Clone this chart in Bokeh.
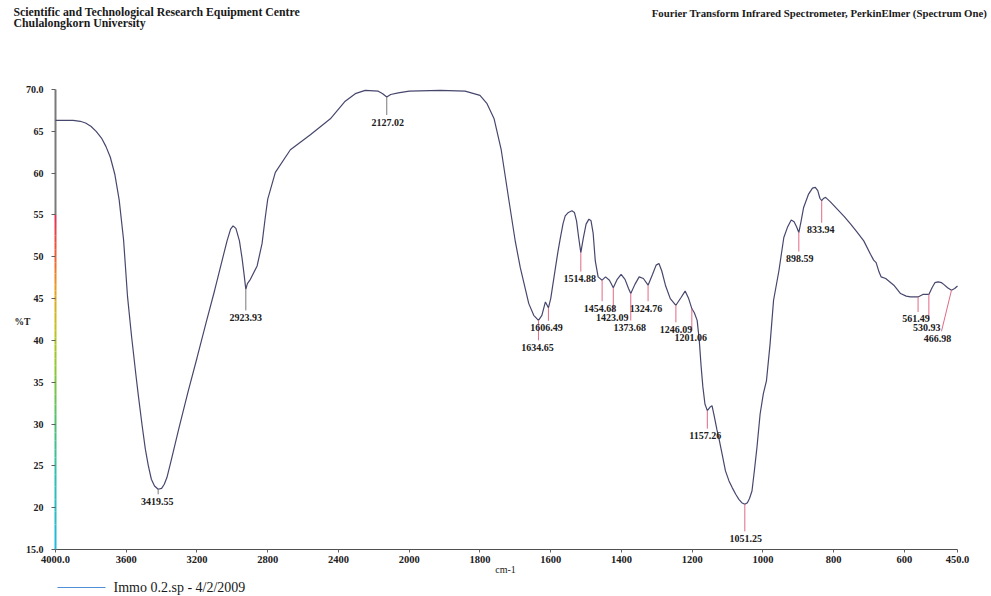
import numpy as np
from bokeh.plotting import figure
from bokeh.models import Range1d, FixedTicker, Label
from bokeh.core.properties import value
from bokeh.embed import file_html
from bokeh.resources import INLINE

# ---------------- data ----------------
wavenumber = [
    4000, 3950, 3900, 3860, 3830, 3800, 3770, 3740, 3715, 3690,
    3665, 3640, 3615, 3593, 3570, 3545, 3531, 3510, 3492, 3475,
    3458, 3440, 3419.55, 3400, 3385, 3370, 3350, 3300, 3250, 3200,
    3150, 3100, 3060, 3030, 3010, 2996, 2980, 2960, 2945, 2935,
    2923.93, 2915, 2898, 2860, 2832, 2814, 2800, 2757, 2672, 2559,
    2446, 2362, 2305, 2249, 2175, 2150, 2127.02, 2105, 2062, 2000,
    1912, 1842, 1800, 1780, 1760, 1740, 1718, 1700, 1686, 1662,
    1648, 1634.65, 1625, 1615, 1606.49, 1600, 1592, 1580, 1573, 1565,
    1559, 1550, 1540, 1533, 1527, 1521, 1514.88, 1508, 1500, 1492,
    1486, 1480, 1474, 1466, 1454.68, 1445, 1434, 1423.09, 1412, 1401,
    1390, 1380, 1373.68, 1362, 1350, 1338, 1324.76, 1312, 1302, 1294,
    1286, 1275, 1262, 1246.09, 1232, 1220, 1210, 1201.06, 1194, 1186,
    1180, 1175, 1170, 1164, 1157.26, 1150, 1144, 1138, 1130, 1125,
    1115, 1106, 1096, 1087, 1077, 1068, 1060, 1051.25, 1044, 1038,
    1031, 1024, 1017, 1008, 999, 990, 980, 970, 955, 941,
    930, 920, 912, 905, 898.59, 892, 885, 871, 860, 852,
    845, 839, 833.94, 828, 823, 810, 790, 770, 752, 735,
    715, 696, 687, 680, 672, 666, 653, 630, 611, 595,
    583, 561.49, 548, 530.93, 522, 514, 505, 495, 489, 478,
    466.98, 458, 450]
transmittance = [
    66.3, 66.3, 66.3, 66.2, 66.0, 65.6, 65.0, 64.2, 63.2, 61.9,
    59.9, 56.8, 52.0, 45.3, 40.5, 35.8, 33.3, 29.8, 27.0, 25.0,
    23.4, 22.6, 22.2, 22.3, 22.8, 23.6, 25.3, 29.7, 33.9, 37.9,
    42.0, 46.0, 49.4, 51.9, 53.3, 53.7, 53.4, 51.9, 49.8, 48.1,
    46.1, 46.8, 47.3, 48.9, 51.6, 54.7, 56.9, 60.1, 62.8, 64.6,
    66.5, 68.6, 69.5, 69.9, 69.8, 69.5, 69.1, 69.4, 69.6, 69.8,
    69.9, 69.8, 69.3, 68.3, 66.5, 62.8, 56.7, 51.8, 48.7, 44.4,
    43.0, 42.4, 43.0, 44.6, 43.9, 45.0, 47.2, 50.5, 52.2, 54.0,
    54.9, 55.3, 55.5, 55.3, 54.3, 52.3, 50.5, 52.2, 53.9, 54.5,
    54.3, 52.8, 49.5, 47.6, 47.2, 47.6, 47.2, 46.3, 47.3, 47.9,
    47.3, 46.2, 45.6, 46.7, 47.6, 47.4, 46.6, 47.9, 49.0, 49.2,
    48.3, 46.5, 45.0, 44.2, 45.1, 45.9, 45.0, 43.8, 43.3, 42.4,
    40.0, 37.0, 34.5, 32.4, 31.6, 32.0, 32.2, 31.0, 29.3, 28.4,
    26.3, 24.4, 23.2, 22.4, 21.6, 21.0, 20.6, 20.4, 20.6, 21.1,
    22.0, 24.5, 27.2, 31.2, 33.6, 35.2, 39.5, 44.8, 48.3, 52.3,
    53.6, 54.4, 54.2, 53.6, 52.9, 54.3, 55.9, 57.5, 58.2, 58.3,
    57.9, 57.0, 56.7, 57.0, 57.1, 56.6, 55.7, 54.8, 53.9, 53.0,
    51.9, 50.3, 49.6, 49.3, 48.2, 47.6, 47.4, 46.6, 45.6, 45.3,
    45.2, 45.2, 45.5, 45.5, 46.3, 46.9, 47.0, 46.9, 46.7, 46.3,
    46.0, 46.2, 46.5]
assert len(wavenumber) == len(transmittance)

peak_wn = [3419.55, 2923.93, 2127.02, 1634.65, 1606.49, 1514.88, 1454.68, 1423.09, 1373.68,
           1324.76, 1246.09, 1201.06, 1157.26, 1051.25, 898.59, 833.94, 561.49, 530.93, 466.98]
peak_t = [22.2, 46.1, 69.1, 42.4, 43.9, 50.5, 47.2, 46.3, 45.6, 46.6, 44.2, 43.8, 31.6, 20.4,
          52.9, 56.7, 45.2, 45.5, 46.0]
peak_labels = ["3419.55", "2923.93", "2127.02", "1634.65", "1606.49", "1514.88", "1454.68",
               "1423.09", "1373.68", "1324.76", "1246.09", "1201.06", "1157.26", "1051.25",
               "898.59", "833.94", "561.49", "530.93", "466.98"]

x_ticks = [4000, 3600, 3200, 2800, 2400, 2000, 1800, 1600, 1400, 1200, 1000, 800, 600, 450]
x_tick_labels = ["4000.0", "3600", "3200", "2800", "2400", "2000", "1800", "1600", "1400",
                 "1200", "1000", "800", "600", "450.0"]
y_ticks = [15, 20, 25, 30, 35, 40, 45, 50, 55, 60, 65, 70]
y_tick_labels = ["15.0", "20", "25", "30", "35", "40", "45", "50", "55", "60", "65", "70.0"]

# ---------------- layout (pixels) ----------------
label_dx = [-1, 0, 1, -1, -2, -1, -2, -1, -1, -2, 0, -1, -2, 1, 1, -1, -2, -2, -14]
label_drop = [12, 28, 25, 27, 20, 26, 28, 30, 34, 23, 24, 29, 25, 34, 26, 29, 22, 33, 48]
marker_colors = ["#7a7a7a"] * 3 + ["#e06a86"] * 16

FONT = "Liberation Serif"
W, H = 990, 595
X0_PX, X1_PX = 55, 957          # pixel columns of 4000 and 450 cm-1
Y70_PX, Y15_PX = 89, 549        # pixel rows of 70 %T and 15 %T


def axis_u(w):
    """FTIR abscissa: scale expanded 2x below 2000 cm-1."""
    w = np.asarray(w, dtype=float)
    return np.where(w > 2000, 2000 + (w - 2000) / 2.0, w)


U0, U1 = float(axis_u(4000)), float(axis_u(450))
U_PER_PX = (U0 - U1) / (X1_PX - X0_PX)
T_PER_PX = 55.0 / (Y15_PX - Y70_PX)
x_start = U0 + X0_PX * U_PER_PX
x_end = U0 - (W - X0_PX) * U_PER_PX
y_top = 70 + Y70_PX * T_PER_PX
y_bottom = 70 - (H - Y70_PX) * T_PER_PX

p = figure(width=W, height=H, x_range=Range1d(x_start, x_end), y_range=Range1d(y_bottom, y_top),
           output_backend="svg", toolbar_location=None,
           min_border_left=0, min_border_right=0, min_border_top=0, min_border_bottom=0)
p.outline_line_color = None
p.grid.visible = False
p.background_fill_color = "white"
p.border_fill_color = "white"


def px2u(px):
    return x_start - px * U_PER_PX


def py2t(py):
    return y_top - py * T_PER_PX


# axis lines
p.segment(x0=[U0], y0=[15], x1=[U1], y1=[15], line_color="#505050", line_width=1)

stops_t = [70, 55, 50, 46, 42, 37, 30, 24, 15]
stops_c = ["#7a7a7a", "#e0305a", "#f06030", "#e8a020", "#c8c020", "#90c830", "#50c070",
           "#30c0b0", "#20b8e0"]


def hex2rgb(h):
    return np.array([int(h[i:i + 2], 16) for i in (1, 3, 5)], dtype=float)


seg_y0, seg_y1, seg_c = [70], [55], ["#7a7a7a"]
for i in range(1, len(stops_t) - 1):
    a, b = stops_t[i], stops_t[i + 1]
    ca, cb = hex2rgb(stops_c[i]), hex2rgb(stops_c[i + 1])
    n = 6
    for k in range(n):
        seg_y0.append(a + (b - a) * k / n)
        seg_y1.append(a + (b - a) * (k + 1) / n)
        c = ca + (cb - ca) * (k + 0.5) / n
        seg_c.append("#%02x%02x%02x" % tuple(int(round(v)) for v in c))
p.segment(x0=[U0] * len(seg_y0), y0=seg_y0, x1=[U0] * len(seg_y0), y1=seg_y1,
          line_color=seg_c, line_width=2)

# spectrum
p.line(axis_u(wavenumber), transmittance, line_color="#47476e", line_width=1.2)

# peak markers and labels
pu = axis_u(peak_wn)
pt = np.array(peak_t)
dx = np.array(label_dx, dtype=float)
drop = np.array(label_drop, dtype=float)
lab_u = pu - dx * U_PER_PX
lab_t = pt - drop * T_PER_PX
end_u = np.where(np.abs(dx) > 5, lab_u - 4 * U_PER_PX, pu)
end_t = pt - (drop - 7) * T_PER_PX
p.segment(x0=pu, y0=pt, x1=end_u, y1=end_t, line_color=marker_colors, line_width=1)
p.text(x=lab_u, y=lab_t, text=peak_labels, text_font=value(FONT), text_font_style="bold",
       text_font_size="10px", text_align="center", text_baseline="middle", text_color="#202020")

# axes placed at fixed data locations inside the frame
xax = p.xaxis[0]
xax.fixed_location = 15
xax.ticker = FixedTicker(ticks=[int(v) for v in axis_u(x_ticks)])
xax.major_label_overrides = {int(u): lab for u, lab in zip(axis_u(x_ticks), x_tick_labels)}
yax = p.yaxis[0]
yax.fixed_location = U0
yax.ticker = FixedTicker(ticks=y_ticks)
yax.major_label_overrides = {t: lab for t, lab in zip(y_ticks, y_tick_labels)}
for ax in (xax, yax):
    ax.axis_line_color = None
    ax.minor_tick_line_color = None
    ax.major_tick_in = 0
    ax.major_label_text_font = FONT
    ax.major_label_text_font_style = "bold"
    ax.major_label_text_color = "#202020"
    ax.major_tick_line_color = "#606060"
xax.major_label_text_font_size = "10.5px"
yax.major_label_text_font_size = "10px"
xax.major_tick_out = 3
xax.major_label_standoff = 3
yax.major_tick_out = 4
yax.major_label_standoff = 8


def add_label(text, fx, fy, align="left", size="10px", style="bold"):
    p.add_layout(Label(x=px2u(fx), y=py2t(fy), text=text, text_font=FONT,
                       text_font_style=style, text_font_size=size, text_align=align,
                       text_baseline="middle", text_color="#1a1a1a"))


add_label("Scientific and Technological Research Equipment Centre", 13, 11, size="11.8px")
add_label("Chulalongkorn University", 13, 22, size="11.8px")
add_label("Fourier Transform Infrared Spectrometer, PerkinElmer (Spectrum One)", 987, 12,
          align="right", size="10.8px")
add_label("%T", 22, 321, align="center", size="9.5px")
add_label("cm-1", 505, 569, align="center", size="10px", style="normal")
add_label("Immo 0.2.sp - 4/2/2009", 113, 587, size="14px", style="normal")
p.segment(x0=[px2u(57)], y0=[py2t(587)], x1=[px2u(105)], y1=[py2t(587)],
          line_color="#4f8fd8", line_width=1.2)

open("out.html", "w").write(file_html(p, INLINE))
